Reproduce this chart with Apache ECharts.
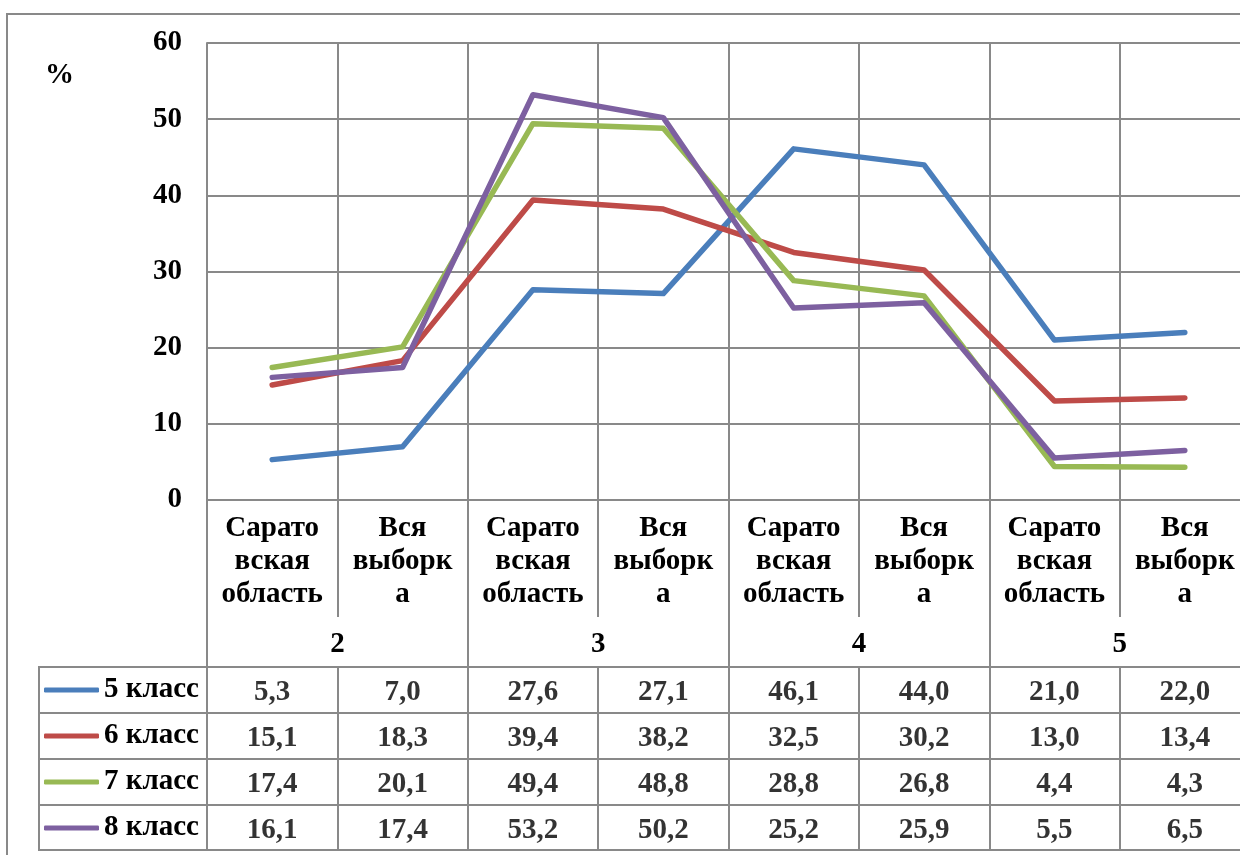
<!DOCTYPE html>
<html>
<head>
<meta charset="utf-8">
<script src="https://cdn.jsdelivr.net/npm/echarts@6/dist/echarts.min.js"></script>
<style>
  html, body { margin: 0; padding: 0; background: #fff; }
  #chart { width: 1240px; height: 855px; }
</style>
</head>
<body>
<div id="chart"></div>
<script>
// Categories: region vs. whole sample, grouped by grade mark (2..5)
const categories = [
  'Сарато\nвская\nобласть', 'Вся\nвыборк\nа',
  'Сарато\nвская\nобласть', 'Вся\nвыборк\nа',
  'Сарато\nвская\nобласть', 'Вся\nвыборк\nа',
  'Сарато\nвская\nобласть', 'Вся\nвыборк\nа'
];
const groups = ['2', '3', '4', '5'];
const seriesNames = ['5 класс', '6 класс', '7 класс', '8 класс'];

// Percent of students per category, one array per class
const class5 = [5.3, 7.0, 27.6, 27.1, 46.1, 44.0, 21.0, 22.0];
const class6 = [15.1, 18.3, 39.4, 38.2, 32.5, 30.2, 13.0, 13.4];
const class7 = [17.4, 20.1, 49.4, 48.8, 28.8, 26.8, 4.4, 4.3];
const class8 = [16.1, 17.4, 53.2, 50.2, 25.2, 25.9, 5.5, 6.5];

const yTicks = { min: 0, max: 60, interval: 10 };

const values = [class5, class6, class7, class8];
const colors = ['#4A7EBB', '#BE4B48', '#98B954', '#7D60A0'];

const FONT = '"Liberation Serif", "Times New Roman", "DejaVu Serif", serif';
const GRAY = '#898989';
const FS = 29;
const txt = { fontFamily: FONT, fontWeight: 'bold', fontSize: FS, color: '#000' };
const gridLine = { color: GRAY, width: 2 };

const fmt = v => v.toFixed(1).replace('.', ',');

// Cells of the data table below the plot: [column, row, value]
const tableCells = [];
values.forEach((arr, r) => arr.forEach((v, c) => tableCells.push([c, r, v])));

const chart = echarts.init(document.getElementById('chart'), null, { renderer: 'canvas' });

chart.setOption({
  backgroundColor: '#fff',
  animation: false,
  title: {
    text: '%', left: 45, top: 61, padding: 0,
    textStyle: { ...txt }
  },
  legend: {
    orient: 'vertical', left: 44, top: 675, padding: 0,
    itemWidth: 55, itemHeight: 5, itemGap: 16,
    icon: 'roundRect',
    data: seriesNames,
    selectedMode: false,
    textStyle: { ...txt, lineHeight: 30 }
  },
  graphic: [{
    type: 'rect', z: -10, silent: true,
    shape: { x: 7, y: 14, width: 1300, height: 900 },
    style: { fill: 'none', stroke: GRAY, lineWidth: 2 }
  }],
  grid: [
    { left: 207, top: 43, width: 1043, height: 457, outerBoundsMode: 'none' },
    { left: 207, top: 667, width: 1043, height: 183, outerBoundsMode: 'none', show: true, borderColor: GRAY, borderWidth: 2 },
    { left: 39, top: 667, width: 168, height: 183, outerBoundsMode: 'none', show: true, borderColor: GRAY, borderWidth: 2 }
  ],
  xAxis: [
    {
      gridIndex: 0, type: 'category', data: categories, position: 'bottom', boundaryGap: true,
      axisLine: { show: true, lineStyle: gridLine },
      axisTick: { show: true, interval: 0, length: 117, lineStyle: gridLine },
      axisLabel: { interval: 0, margin: 12, ...txt, lineHeight: 33 },
      splitLine: { show: true, interval: 0, lineStyle: gridLine }
    },
    {
      gridIndex: 0, type: 'category', data: groups, position: 'bottom', offset: 0, boundaryGap: true,
      axisLine: { show: false },
      axisTick: { show: true, interval: 0, length: 167, lineStyle: gridLine },
      axisLabel: { interval: 0, margin: 128, ...txt, lineHeight: 33 },
      splitLine: { show: false }
    },
    {
      gridIndex: 1, type: 'category', data: categories, boundaryGap: true,
      axisLine: { show: false }, axisTick: { show: false }, axisLabel: { show: false },
      splitLine: { show: true, interval: 0, lineStyle: gridLine }
    },
    {
      gridIndex: 2, type: 'value', min: 0, max: 1, show: false
    }
  ],
  yAxis: [
    {
      gridIndex: 0, type: 'value', min: yTicks.min, max: yTicks.max, interval: yTicks.interval,
      axisLine: { show: true, lineStyle: gridLine },
      axisTick: { show: false },
      axisLabel: { margin: 25, ...txt, padding: [5, 0, 0, 0] },
      splitLine: { show: true, lineStyle: gridLine }
    },
    {
      gridIndex: 1, type: 'category', data: seriesNames, inverse: true, boundaryGap: true,
      axisLine: { show: false }, axisTick: { show: false }, axisLabel: { show: false },
      splitLine: { show: true, interval: 0, lineStyle: gridLine }
    },
    {
      gridIndex: 2, type: 'category', data: seriesNames, inverse: true, boundaryGap: true,
      axisLine: { show: false }, axisTick: { show: false }, axisLabel: { show: false },
      splitLine: { show: true, interval: 0, lineStyle: gridLine }
    }
  ],
  series: [
    ...seriesNames.map((name, i) => ({
      name, type: 'line', xAxisIndex: 0, yAxisIndex: 0,
      data: values[i], symbol: 'none', smooth: false,
      color: colors[i],
      lineStyle: { width: 5.5, color: colors[i], cap: 'round', join: 'round' }
    })),
    {
      name: 'table', type: 'scatter', xAxisIndex: 2, yAxisIndex: 1,
      data: tableCells, symbol: 'rect', symbolSize: 1, silent: true,
      itemStyle: { color: 'transparent' },
      label: {
        show: true, position: 'inside', offset: [0, 3], ...txt,
        formatter: p => fmt(p.value[2])
      }
    }
  ]
});
</script>
</body>
</html>
